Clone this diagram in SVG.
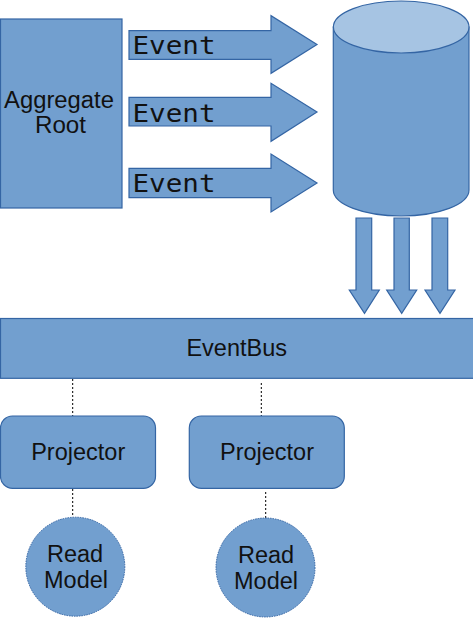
<svg xmlns="http://www.w3.org/2000/svg" width="473" height="618" viewBox="0 0 473 618">
<style>
.shape{fill:#729fcf;stroke:#3465a4;stroke-width:1.2}
.top{fill:#a6c4e3;stroke:#3465a4;stroke-width:1.2}
.circ{fill:#729fcf;stroke:#3465a4;stroke-width:1;stroke-dasharray:1.5 1}
.dot{stroke:#000;stroke-width:1;stroke-dasharray:2 2;fill:none}
.lbl{font-family:"Liberation Sans",Arial,sans-serif;font-size:23.5px;fill:#111;text-anchor:middle}
.agg{font-family:"Liberation Sans",Arial,sans-serif;font-size:23px;fill:#111;text-anchor:middle}
.mono{font-family:"DejaVu Sans Mono",monospace;font-size:25px;fill:#111}
</style>
<rect width="473" height="618" fill="#fff"/>
<g id="connectors">
<line class="dot" x1="72.7" y1="379" x2="72.7" y2="416"/>
<line class="dot" x1="261.3" y1="383" x2="261.3" y2="416"/>
<line class="dot" x1="72.7" y1="489" x2="72.7" y2="517"/>
<line class="dot" x1="265.7" y1="492" x2="265.7" y2="518"/>
</g>
<g id="aggregate-root">
<rect class="shape" x="0.5" y="19" width="121.5" height="189"/>
<text class="agg" x="59" y="107.7" textLength="110" lengthAdjust="spacingAndGlyphs">Aggregate</text>
<text class="agg" x="60.5" y="133.3" textLength="51" lengthAdjust="spacingAndGlyphs">Root</text>
</g>
<g id="event-1">
<polygon class="shape" points="129,30.7 271,30.7 271,15.7 317,44.5 271,73.3 271,59.3 129,59.3"/>
<text class="mono" x="132.5" y="54" textLength="83" lengthAdjust="spacingAndGlyphs">Event</text>
</g>
<g id="event-2">
<polygon class="shape" points="129,97.3 271,97.3 271,83.3 317,112 271,141.3 271,126 129,126"/>
<text class="mono" x="132.5" y="121.5" textLength="83" lengthAdjust="spacingAndGlyphs">Event</text>
</g>
<g id="event-3">
<polygon class="shape" points="129,168.3 271,168.3 271,154 317,183 271,212 271,197.7 129,197.7"/>
<text class="mono" x="132.5" y="192.3" textLength="83" lengthAdjust="spacingAndGlyphs">Event</text>
</g>
<g id="event-store">
<path class="shape" d="M333.3,27 L333.3,190 A67.8,26 0 0 0 469,190 L469,27 Z"/>
<ellipse class="top" cx="401.2" cy="27" rx="67.8" ry="26"/>
</g>
<g id="down-arrows">
<polygon class="shape" points="356,218 371.7,218 371.7,290 379.3,290 364.5,313.3 349.3,290 356,290"/>
<polygon class="shape" points="394,218 409.3,218 409.3,290 416.7,290 401.7,313.3 386.7,290 394,290"/>
<polygon class="shape" points="432,218 447.7,218 447.7,290 455,290 440,313.3 425,290 432,290"/>
</g>
<g id="eventbus">
<rect class="shape" x="0.5" y="318.5" width="480" height="59.8"/>
<text class="lbl" x="236.7" y="356">EventBus</text>
</g>
<g id="projector-1">
<rect class="shape" x="0.5" y="416" width="155" height="72.3" rx="12" ry="12"/>
<text class="lbl" x="78.2" y="460">Projector</text>
</g>
<g id="projector-2">
<rect class="shape" x="189.3" y="416" width="155" height="72.3" rx="12" ry="12"/>
<text class="lbl" x="267" y="460">Projector</text>
</g>
<g id="read-model-1">
<circle class="circ" cx="75.3" cy="566.7" r="49.5"/>
<text class="lbl" x="75" y="561.5">Read</text>
<text class="lbl" x="76" y="588">Model</text>
</g>
<g id="read-model-2">
<circle class="circ" cx="265.5" cy="567.5" r="49.5"/>
<text class="lbl" x="266" y="562.5">Read</text>
<text class="lbl" x="266" y="589">Model</text>
</g>
</svg>
